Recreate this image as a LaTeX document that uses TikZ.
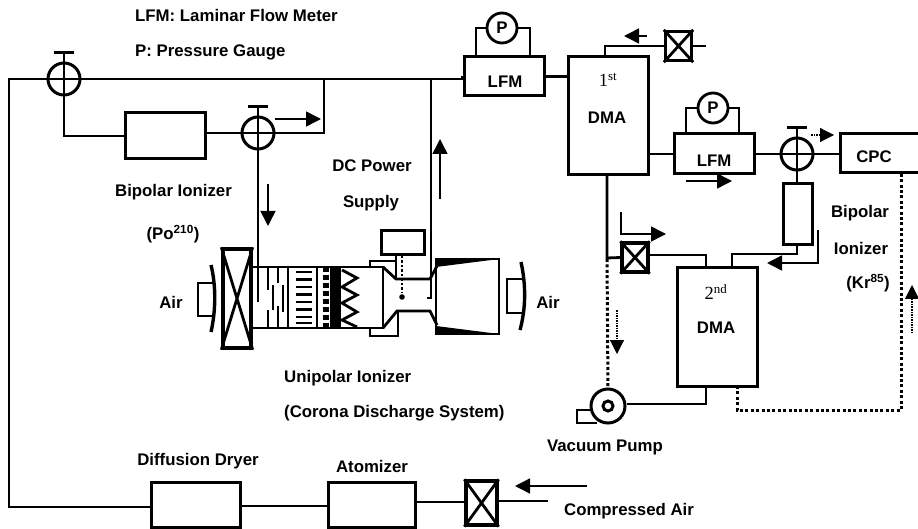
\documentclass[tikz,border=0pt]{standalone}
\usepackage{fontspec}
\setmainfont{Liberation Sans}
\newfontfamily\serifnum{Liberation Serif}
\usetikzlibrary{arrows.meta,calc}
\tikzset{
 pipe/.style={draw,line width=2.8pt,line join=miter},
 box/.style={draw,line width=3pt,rectangle,inner sep=0pt,font=\labelfont},
 lab/.style={inner sep=0pt,font=\labelfont},
 valve/.style={draw,circle,line width=3pt,minimum size=32pt,inner sep=0pt},
 gauge/.style={draw,circle,line width=2.8pt,minimum size=30pt,inner sep=0pt,font=\labelfont},
 xbox/.style={draw,rectangle,line width=3.4pt,inner sep=0pt},
 flow/.style={draw,line width=1.5pt,-{Triangle[length=15pt,width=15pt]}},
 dflow/.style={draw,line width=1.1pt,dash pattern=on 1.5pt off 1pt,-{Triangle[length=14pt,width=14pt,sep=0pt]}},
 dots/.style={draw,line width=3pt,dash pattern=on 3pt off 2.4pt},
 ordinal/.style={inner sep=0pt,font=\serifnum\fontsize{18.5pt}{20pt}\selectfont},
}
\newcommand{\labelfont}{\fontsize{16.8pt}{19pt}\selectfont\bfseries}
\newcommand{\xcross}[1]{\draw[line width=2.8pt] (#1.north west)--(#1.south east) (#1.north east)--(#1.south west);}
\newcommand{\valvecross}[2]{% node, handle half width
 \draw[line width=2.6pt] (#1.west)--(#1.east) (#1.center)--(#1.south);
 \draw[line width=2.6pt] (#1.center)--($(#1.center)+(0,-26)$);
 \draw[line width=3pt] ($(#1.center)+(-#2,-26)$)--($(#1.center)+(#2,-26)$);}
\begin{document}
\begin{tikzpicture}[x=1pt,y=-1pt]
\useasboundingbox (0,0) rectangle (918,529);
% ---- boxes
\node[box,minimum width=80pt,minimum height=46pt] (bipA) at (165,136) {};
\node[box,minimum width=89pt,minimum height=45pt] (dryer) at (195.5,504.5) {};
\node[box,minimum width=87pt,minimum height=45pt] (atom) at (371.5,504.5) {};
\node[box,minimum width=80pt,minimum height=39pt] (lfmA) at (504,76.5) {};
\node[box,minimum width=80pt,minimum height=118pt] (dmaA) at (608,116) {};
\node[box,minimum width=80pt,minimum height=40pt] (lfmB) at (714,154) {};
\node[box,minimum width=85pt,minimum height=39pt,anchor=west] (cpc) at (839,153.5) {};
\node[box,minimum width=29pt,minimum height=61pt] (bipB) at (797.5,214.5) {};
\node[box,minimum width=80pt,minimum height=118pt] (dmaB) at (717,327) {};
% ---- valves
\node[valve] (vA) at (64,79) {};
\node[valve] (vB) at (258,133) {};
\node[valve] (vC) at (797,154) {};
\valvecross{vA}{10}
\valvecross{vB}{10}
\valvecross{vC}{10}
\node[xbox,minimum width=31pt,minimum height=44pt] (xA) at (481.5,503) {}; \xcross{xA}
\node[xbox,minimum width=26pt,minimum height=29pt] (xB) at (678.5,46) {}; \xcross{xB}
\node[xbox,minimum width=26pt,minimum height=29pt] (xC) at (635,257.5) {}; \xcross{xC}
\node[gauge] (pA) at (502,28) {P};
\node[gauge] (pB) at (713,108) {P};
% ---- pump
\node[draw,circle,line width=3pt,minimum size=34pt,inner sep=0pt] (pump) at (608,406) {};
\node[draw,circle,line width=3pt,minimum size=10pt,inner sep=0pt] (pumpeye) at (608,406) {};
% ---- free ends
\coordinate (corner) at (9,79);
\coordinate (cornerB) at (9,507);
\coordinate (teeA) at (324,79);
\coordinate (teeB) at (431,78);
\coordinate (airIn) at (548,501);
\coordinate (xAout) at (706,46);
\coordinate (throat) at (431,279);
% ---- main pipes
\draw[pipe] (lfmA.west) -- (vA.center -| lfmA.west) -- (corner) -- (cornerB) -- (dryer.west |- cornerB);
\draw[pipe] (dryer.east |- 0,506) -- (atom.west |- 0,506);
\draw[pipe] (atom.east |- 0,502) -- (xA.west |- 0,502);
\draw[pipe] (xA.east |- airIn) -- (airIn);
\draw[pipe] (vA.center) -- (vA.center |- bipA) -- (bipA.west);
\draw[pipe] (bipA.east |- vB) -- (vB.west);
\draw[pipe] (vB.east) -- (teeA |- vB) -- (teeA);
\draw[pipe] (vB.center) -- (258,302);
\draw[pipe] (teeB) -- (throat) -- (431,298) -- (427,298);
\draw[pipe] (lfmA.east) -- (dmaA.west |- lfmA.east);
\draw[pipe] (dmaA.east |- lfmB) -- (lfmB.west);
\draw[pipe] (lfmB.east |- vC) -- (vC.west);
\draw[pipe] (vC.east) -- (cpc.west |- vC);
\draw[pipe] (vC.south) -- (bipB.north -| vC);
\draw[pipe] (pA.west) -- (476,28) -- (476,57);
\draw[pipe] (pA.east) -- (530,28) -- (530,57);
\draw[pipe] (pB.west) -- (686,108) -- (686,134);
\draw[pipe] (pB.east) -- (739,108) -- (739,134);
\draw[pipe] (605,57) -- (605,46) -- (xB.west);
\draw[pipe] (xB.east) -- (xAout);
\draw[pipe] (607,175) -- (607,258) -- (xC.west);
\draw[pipe] (xC.east |- 0,255) -- (706,255) -- (706,268);
\draw[pipe] (797,245) -- (797,254) -- (732,254) -- (732,268);
\draw[pipe] (pump.east |- 0,404) -- (706,404) -- (706,386);
\draw[pipe] (593,410) -- (577,410) -- (577,423) -- (597,423);
% ---- dotted
\draw[dots] (607,259) -- (pump.north);
\draw[dots] (737,386) -- (737,410) -- (901,410) -- (901,173);
% ---- flow arrows
\draw[flow] (275,119) -- (321,119);
\draw[flow] (268,184) -- (268,226);
\draw[flow] (440,199) -- (440,139);
\draw[flow] (647,36) -- (624,36);
\draw[flow] (686,181) -- (732,181);
\draw[dflow] (811,135) -- (834,135);
\draw[flow] (621,212) -- (621,234) -- (666,234);
\draw[flow] (818,230) -- (818,263) -- (767,263);
\draw[dflow] (617,310) -- (617,354);
\draw[dflow] (912,333) -- (912,285);
\draw[flow] (587,486) -- (515,486);
% ---- ionizer : inlet
\draw[pipe] (215,283) -- (198,283) -- (198,316) -- (215,316);
\draw[line width=3.4pt] (211,265) .. controls (216,285) and (216,310) .. (211,332);
\node[xbox,minimum width=28pt,minimum height=99pt] (xD) at (237,298.5) {}; \xcross{xD}
% body
\draw[pipe] (xD.east |- 0,267) -- (383,267) -- (383,328) -- (xD.east |- 0,328);
\draw[line width=2.4pt] (268,267)--(268,290) (268,310)--(268,328) (278,267)--(278,283) (278,306)--(278,328) (288,267)--(288,328) (273,285)--(273,310) (283,285)--(283,312) (317,267)--(317,328);
\foreach \yy in {272,279.5,287,294.5,302,309.5,317,323}{\draw[line width=2.8pt] (296,\yy)--(312,\yy);}
\draw[line width=6pt,dash pattern=on 5pt off 3pt] (326,267)--(326,328);
\fill (330,267) rectangle (341,328);
\draw[line width=2.8pt] (342,270)--(357,278)--(342,287)--(357,295)--(342,303)--(357,312)--(342,320)--(357,327);
% corona section
\node[draw,rectangle,line width=3pt,minimum width=43pt,minimum height=24pt,inner sep=0pt] (psu) at (402.5,243) {};
\draw[pipe] (370,267)--(370,261)--(397,261);
\draw[pipe] (396,255)--(396,279);
\draw[pipe] (383,267)--(396,279)--(430,279)--(437,266);
\draw[pipe] (383,328)--(397,311)--(430,311)--(437,325);
\draw[pipe] (370,328)--(370,336)--(398,336)--(398,312);
\draw[line width=2.4pt,dash pattern=on 2.5pt off 2pt] (402,256)--(402,293);
\fill (402,297) circle (2.8pt);
% outlet
\draw[pipe] (436,259)--(499,259)--(499,334)--(436,334)--cycle;
\fill (436,259)--(499,259)--(436,267)--cycle;
\fill (436,334)--(499,334)--(436,326)--cycle;
\draw[pipe] (523,279)--(507,279)--(507,313)--(523,313);
\draw[line width=3.4pt] (521,262) .. controls (526,285) and (526,308) .. (520,330);
% ---- labels
\node[lab,anchor=base west] (tA) at (135,22) {LFM: Laminar Flow Meter};
\node[lab,anchor=base west] (tB) at (135,57) {P: Pressure Gauge};
\node[lab] (tC) at (173.5,192) {Bipolar Ionizer};
\node[lab] (tD) at (173,234) {(Po\textsuperscript{210})};
\node[lab] (tE) at (372,166) {DC Power};
\node[lab] (tF) at (371,203) {Supply};
\node[lab] (tG) at (171,302) {Air};
\node[lab] (tH) at (548,302) {Air};
\node[lab,anchor=base west] (tI) at (284,382) {Unipolar Ionizer};
\node[lab,anchor=base west] (tJ) at (284,417) {(Corona Discharge System)};
\node[lab] (tK) at (198,461) {Diffusion Dryer};
\node[lab] (tL) at (372,466) {Atomizer};
\node[lab] (tM) at (629,511) {Compressed Air};
\node[lab] (tO) at (607,118) {DMA};
\node[lab] (tP) at (716,328) {DMA};
\node[lab] (tLa) at (505,82) {LFM};
\node[lab] (tQ) at (714,161) {LFM};
\node[lab] (tR) at (874,157) {CPC};
\node[lab] (tS) at (860,213) {Bipolar};
\node[lab] (tT) at (861,248) {Ionizer};
\node[lab] (tU) at (868,283) {(Kr\textsuperscript{85})};
\node[lab] (tX) at (605,447) {Vacuum Pump};
\node[ordinal] (tV) at (608,80) {1\textsuperscript{st}};
\node[ordinal] (tW) at (716,292) {2\textsuperscript{nd}};
\end{tikzpicture}
\end{document}
